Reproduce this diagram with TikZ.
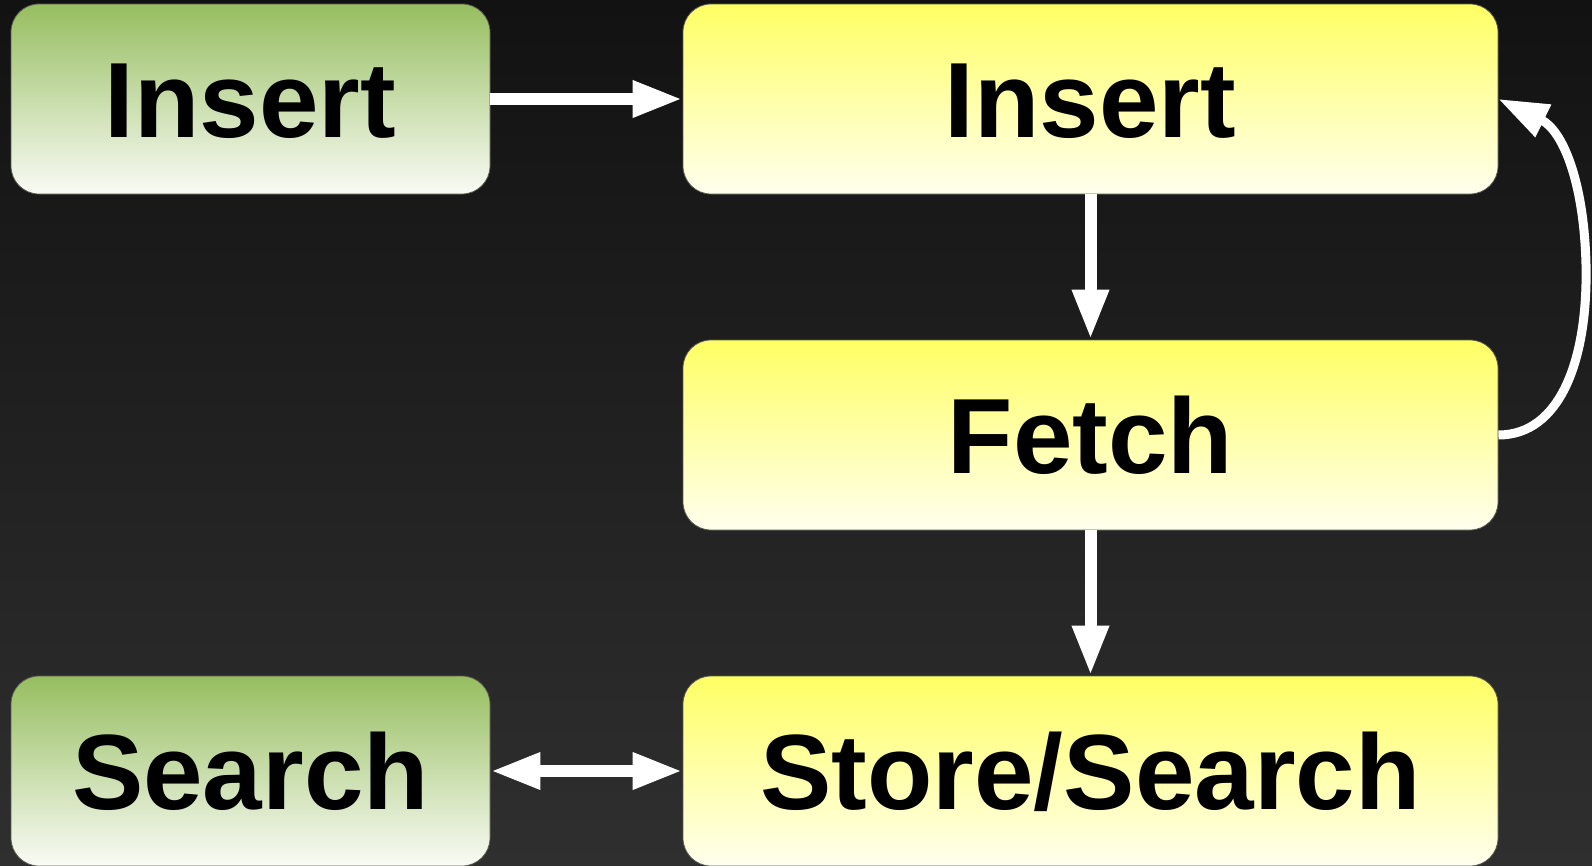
\documentclass[tikz,border=0pt]{standalone}
\usepackage{fontspec}
\setmainfont{Liberation Sans}
\usetikzlibrary{arrows.meta}

\definecolor{bgtop}{RGB}{18,18,18}
\definecolor{bgbottom}{RGB}{47,47,47}
\definecolor{greentop}{RGB}{150,190,95}
\definecolor{greenbottom}{RGB}{250,251,246}
\definecolor{yellowtop}{RGB}{255,255,100}
\definecolor{yellowbottom}{RGB}{255,255,238}
\definecolor{boxedge}{RGB}{90,90,80}

\tikzset{
  box/.style={rounded corners=28pt, draw=boxedge, line width=0.8pt,
    minimum height=190pt, inner sep=0pt,
    font=\fontsize{107}{122}\selectfont\bfseries,
    text height=76.5pt, text depth=0pt},
  greenbox/.style={box, minimum width=479pt, top color=greentop, bottom color=greenbottom},
  yellowbox/.style={box, minimum width=815pt, top color=yellowtop, bottom color=yellowbottom},
  flow/.style={draw=white, line width=12pt,
    -{Triangle[length=50pt,width=34pt]}},
  flowboth/.style={draw=white, line width=12pt,
    {Triangle[length=50pt,width=34pt]}-{Triangle[length=50pt,width=34pt]}},
  loopback/.style={draw=white, line width=9pt,
    -{Triangle[length=50pt,width=34pt]}}
}

\begin{document}
\begin{tikzpicture}[x=1pt,y=-1pt]
  \useasboundingbox (0,0) rectangle (1592,865);
  \fill[top color=bgtop, bottom color=bgbottom] (0,0) rectangle (1592,865);

  \node[greenbox]  (ins1)   at (250.5,99)   {Insert};
  \node[yellowbox] (ins2)   at (1090.5,99)  {Insert};
  \node[yellowbox] (fetch)  at (1090.5,435) {Fetch};
  \node[yellowbox] (store)  at (1090.5,771) {Store/Search};
  \node[greenbox]  (search) at (250.5,771)  {Search};

  \draw[flow] (ins1.east) -- (ins2.west);
  \draw[flow] (ins2.south) -- (fetch.north);
  \draw[flow] (fetch.south) -- (store.north);
  \draw[flowboth] (search.east) -- (store.west);

  \draw[loopback] (fetch.east)
    .. controls (1560,435) and (1588,360) .. (1586,265)
    .. controls (1584,180) and (1562,130) .. (ins2.east);
\end{tikzpicture}
\end{document}
